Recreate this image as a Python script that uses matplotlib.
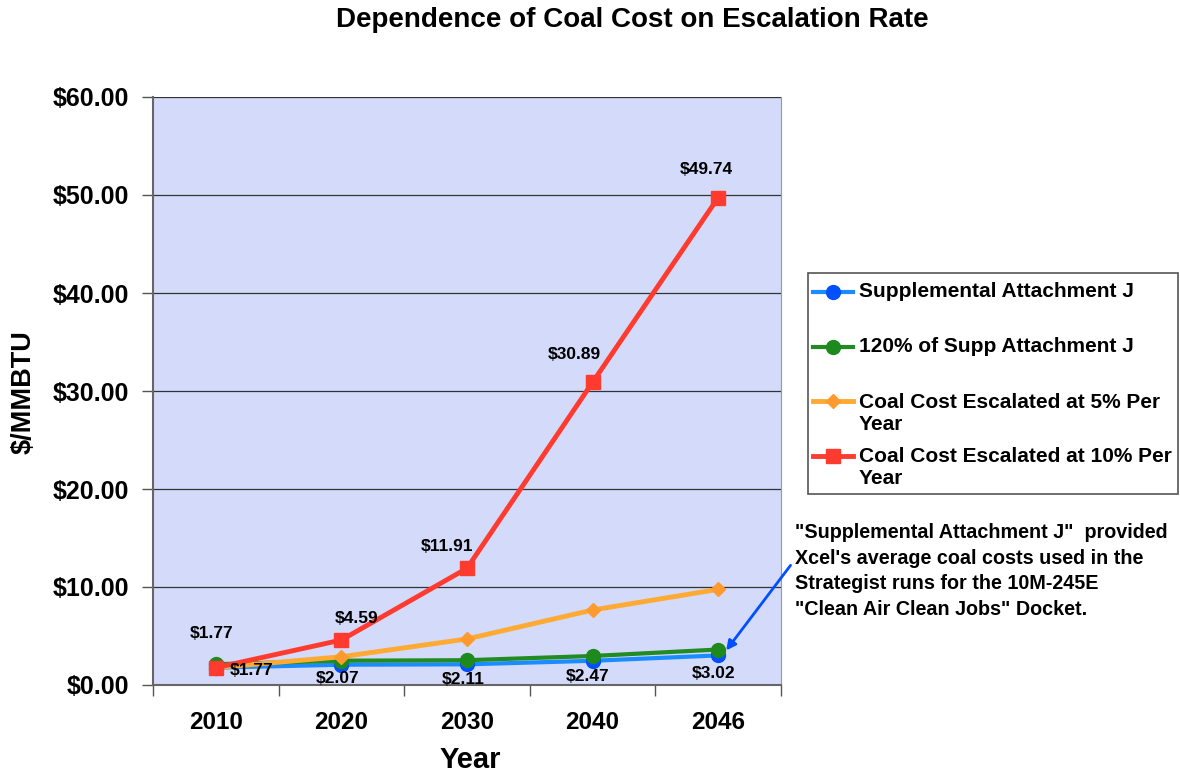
import matplotlib
matplotlib.use("Agg")
import matplotlib.pyplot as plt
from matplotlib.lines import Line2D
from matplotlib.patches import Rectangle

plt.rcParams['font.family'] = ['Liberation Sans', 'DejaVu Sans']
plt.rcParams['font.weight'] = 'bold'

years = ["2010", "2020", "2030", "2040", "2046"]
supp_j = [1.77, 2.07, 2.11, 2.47, 3.02]
supp_j_120 = [2.12, 2.48, 2.53, 2.96, 3.62]
esc_5 = [1.77, 2.88, 4.70, 7.65, 9.76]
esc_10 = [1.77, 4.59, 11.91, 30.89, 49.74]
y_ticks = [0, 10, 20, 30, 40, 50, 60]
y_ticklabels = ["$0.00", "$10.00", "$20.00", "$30.00", "$40.00", "$50.00", "$60.00"]

series_names = ["Supplemental Attachment J", "120% of Supp Attachment J",
                "Coal Cost Escalated at 5% Per\nYear", "Coal Cost Escalated at 10% Per\nYear"]

W, H = 1180, 774
fig = plt.figure(figsize=(W / 100, H / 100), dpi=100)
fig.patch.set_facecolor('white')

def fx(px):
    return px / W

def fy(py):
    return 1 - py / H

ax = fig.add_axes([fx(153), fy(685), fx(781) - fx(153), fy(97) - fy(685)])
ax.set_facecolor('#D3DAFA')

x = list(range(len(years)))
styles = [
    dict(color='#1A8CFF', marker='o', mfc='#0050FF', mec='#0050FF', ms=10, lw=3),
    dict(color='#228B22', marker='o', mfc='#1E8A1E', mec='#1E8A1E', ms=10, lw=3),
    dict(color='#FFAA33', marker='D', mfc='#FF9A2E', mec='#FF9A2E', ms=7.5, lw=3.5),
    dict(color='#FF3B30', marker='s', mfc='#FF3B30', mec='#FF3B30', ms=10, lw=3.5),
]
data = [supp_j, supp_j_120, esc_5, esc_10]
for vals, st in zip(data, styles):
    ax.plot(x, vals, zorder=3, **st)

ax.set_xlim(-0.5, len(years) - 0.5)
ax.set_ylim(0, 60)
ax.set_yticks(y_ticks)
ax.set_yticklabels(y_ticklabels, fontsize=18, fontweight='bold')
ax.yaxis.grid(True, color='#333333', lw=0.9)
ax.set_axisbelow(True)

ax.set_xticks(x)
ax.set_xticklabels(years, fontsize=17.5, fontweight='bold')
ax.set_xticks([i - 0.5 for i in range(len(years) + 1)], minor=True)
ax.tick_params(axis='x', which='major', length=0, pad=19)
ax.tick_params(axis='x', which='minor', length=8, width=1, color='#555555', direction='out')
ax.tick_params(axis='y', length=8, width=1, color='#555555', direction='out', pad=9)

for s in ['left', 'bottom']:
    ax.spines[s].set_color('#666666')
    ax.spines[s].set_linewidth(1.5)
ax.spines['right'].set_color('#999999')
ax.spines['top'].set_visible(False)

ax.set_ylabel("$/MMBTU", fontsize=19.5, fontweight='bold')
ax.yaxis.set_label_coords((37 - 153) / 628, 0.498)
ax.set_xlabel("Year", fontsize=21, fontweight='bold')
ax.xaxis.set_label_coords((470 - 153) / 628, -0.104)

# data labels
blue_offsets = [(36, -3), (-4, -14), (-4, -15), (-5, -16), (-5, -18)]
for i, (v, off) in enumerate(zip(supp_j, blue_offsets)):
    ax.annotate(f"${v:.2f}", (x[i], v), xytext=off, textcoords='offset pixels',
                ha='center', va='center', fontsize=12.5, fontweight='bold', zorder=5)
red_offsets = [(-4, 34), (15, 22), (-20, 22), (-18, 28), (-12, 28)]
for i, (v, off) in enumerate(zip(esc_10, red_offsets)):
    ax.annotate(f"${v:.2f}", (x[i], v), xytext=off, textcoords='offset pixels',
                ha='center', va='center', fontsize=12.5, fontweight='bold', zorder=5)

fig.text(fx(632), fy(20), "Dependence of Coal Cost on Escalation Rate",
         ha='center', va='center', fontsize=20, fontweight='bold')

# legend (manual, Excel-like layout)
fig.patches.append(Rectangle((fx(808), fy(494)), fx(1178) - fx(808), fy(273) - fy(494),
                             transform=fig.transFigure, fill=False, ec='#555555', lw=1.2))
leg_y = [292, 347, 413, 468]
for name, st, yy in zip(series_names, styles, leg_y):
    line_y = yy if '\n' not in name else yy - 12
    ln = Line2D([fx(813), fx(833), fx(853)], [fy(line_y)] * 3,
                transform=fig.transFigure, color=st['color'], lw=st['lw'],
                marker=st['marker'], markevery=[1], ms=st['ms'],
                mfc=st['mfc'], mec=st['mec'])
    fig.lines.append(ln)
    fig.text(fx(859), fy(yy), name, ha='left', va='center', fontsize=15,
             fontweight='bold', linespacing=1.2)

# annotation
ax.annotate("\"Supplemental Attachment J\"  provided\nXcel's average coal costs used in the\n"
            "Strategist runs for the 10M-245E\n\"Clean Air Clean Jobs\" Docket.",
            xy=(4.05, 3.3), xycoords='data',
            xytext=(fx(795), fy(571)), textcoords='figure fraction',
            ha='left', va='center', fontsize=14.2, fontweight='bold', linespacing=1.45,
            arrowprops=dict(arrowstyle='-|>', color='#0050FF', lw=2,
                            relpos=(0.0, 0.62), mutation_scale=14),
            annotation_clip=False)

fig.savefig("out.png", dpi=100)
